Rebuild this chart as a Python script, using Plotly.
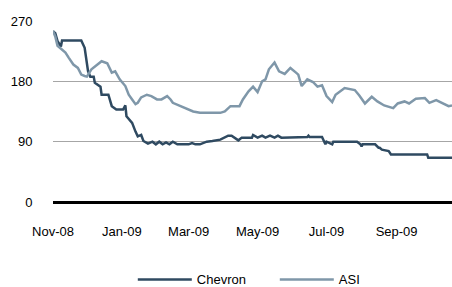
import plotly.graph_objects as go

chevron_dates = [
    "2008-11-01", "2008-11-03", "2008-11-05", "2008-11-08", "2008-11-09", "2008-11-26",
    "2008-11-29", "2008-12-02", "2008-12-04", "2008-12-07", "2008-12-08", "2008-12-13",
    "2008-12-14", "2008-12-20", "2008-12-23", "2008-12-27", "2009-01-02", "2009-01-04",
    "2009-01-05", "2009-01-10", "2009-01-13", "2009-01-15", "2009-01-18", "2009-01-20",
    "2009-01-24", "2009-01-28", "2009-01-31", "2009-02-03", "2009-02-06", "2009-02-09",
    "2009-02-12", "2009-02-15", "2009-02-19", "2009-02-24", "2009-03-01", "2009-03-04",
    "2009-03-07", "2009-03-11", "2009-03-17", "2009-03-22", "2009-03-29", "2009-04-05",
    "2009-04-08", "2009-04-14", "2009-04-17", "2009-04-26", "2009-04-27", "2009-05-01",
    "2009-05-05", "2009-05-08", "2009-05-12", "2009-05-16", "2009-05-19", "2009-05-22",
    "2009-06-14", "2009-06-15", "2009-06-16", "2009-06-27", "2009-06-30", "2009-07-01",
    "2009-07-06", "2009-07-07", "2009-07-28", "2009-07-31", "2009-08-01", "2009-08-02",
    "2009-08-13", "2009-08-16", "2009-08-17", "2009-08-19", "2009-08-25", "2009-08-27",
    "2009-09-28", "2009-09-29", "2009-10-20",
]
chevron_values = [
    255, 252, 240, 232, 241, 241,
    230, 195, 187, 187, 178, 172,
    160, 160, 143, 138, 138, 144,
    128, 118, 105, 98, 100, 91,
    87, 90, 86, 90, 86, 89,
    86, 90, 86, 86, 86, 88,
    86, 86, 90, 91, 93, 99,
    99, 92, 96, 96, 100, 96,
    99, 96, 99, 96, 99, 96,
    97, 99, 97, 97, 86, 90,
    86, 90, 90, 86, 83, 86,
    86, 81, 81, 78, 76, 71,
    71, 66, 66,
]

asi_dates = [
    "2008-11-01", "2008-11-03", "2008-11-05", "2008-11-09", "2008-11-12", "2008-11-15",
    "2008-11-19", "2008-11-23", "2008-11-26", "2008-11-29", "2008-12-01", "2008-12-05",
    "2008-12-10", "2008-12-14", "2008-12-19", "2008-12-23", "2008-12-26", "2008-12-30",
    "2009-01-04", "2009-01-07", "2009-01-10", "2009-01-13", "2009-01-15", "2009-01-18",
    "2009-01-23", "2009-01-27", "2009-02-01", "2009-02-05", "2009-02-10", "2009-02-13",
    "2009-02-15", "2009-02-21", "2009-02-27", "2009-03-05", "2009-03-11", "2009-03-17",
    "2009-03-23", "2009-03-29", "2009-04-02", "2009-04-07", "2009-04-15", "2009-04-18",
    "2009-04-23", "2009-04-27", "2009-05-01", "2009-05-05", "2009-05-08", "2009-05-11",
    "2009-05-16", "2009-05-20", "2009-05-25", "2009-05-30", "2009-06-04", "2009-06-06",
    "2009-06-09", "2009-06-14", "2009-06-19", "2009-06-23", "2009-06-27", "2009-07-01",
    "2009-07-06", "2009-07-09", "2009-07-17", "2009-07-21", "2009-07-26", "2009-07-30",
    "2009-08-04", "2009-08-10", "2009-08-15", "2009-08-21", "2009-08-29", "2009-09-02",
    "2009-09-08", "2009-09-12", "2009-09-18", "2009-09-26", "2009-09-30", "2009-10-06",
    "2009-10-11", "2009-10-17", "2009-10-20",
]
asi_values = [
    255, 247, 233, 228, 223, 215,
    205, 200, 190, 188, 187, 198,
    205, 210, 207, 193, 195, 183,
    173, 160, 153, 146, 148, 156,
    160, 158, 153, 153, 158, 153,
    148, 144, 139, 135, 133, 133,
    134, 133, 135, 143, 143, 153,
    165, 172, 164, 180, 183, 198,
    208, 195, 191, 200, 193, 190,
    173, 183, 179, 172, 174, 158,
    149, 160, 170, 169, 167, 159,
    147, 157, 150, 144, 140, 147,
    150, 147, 154, 155, 148, 152,
    148, 143, 144,
]

tick_dates = ["2008-11-01", "2009-01-01", "2009-03-01", "2009-05-01", "2009-07-01", "2009-09-01"]
tick_labels = ["Nov-08", "Jan-09", "Mar-09", "May-09", "Jul-09", "Sep-09"]
y_ticks = [0, 90, 180, 270]

fig = go.Figure()
fig.add_trace(go.Scatter(x=chevron_dates, y=chevron_values, mode="lines", name="Chevron",
                         line=dict(color="#2F4A61", width=2.5)))
fig.add_trace(go.Scatter(x=asi_dates, y=asi_values, mode="lines", name="ASI",
                         line=dict(color="#7F97A9", width=2.5)))

font = dict(family="Liberation Sans, Arial, sans-serif", size=13, color="#000000")
fig.update_layout(
    width=452, height=287,
    margin=dict(l=53, r=0, t=21, b=85, autoexpand=False),
    paper_bgcolor="white", plot_bgcolor="white",
    font=font,
    showlegend=True,
    legend=dict(orientation="h", x=0.2, xanchor="left", y=-0.428, yanchor="middle",
                font=font, bgcolor="rgba(0,0,0,0)", itemwidth=54,
                entrywidth=73, entrywidthmode="pixels"),
    xaxis=dict(type="date", range=["2008-11-01", "2009-10-20"], tickvals=tick_dates,
               ticktext=tick_labels, showgrid=False, zeroline=False, showline=False,
               ticks="outside", ticklen=17, tickcolor="rgba(0,0,0,0)", tickfont=font),
    yaxis=dict(range=[0, 270], tickvals=y_ticks, showgrid=True, gridcolor="#A6A6A6",
               gridwidth=1, zeroline=True, zerolinecolor="#000000", zerolinewidth=3,
               showline=False, ticks="outside", ticklen=17, tickcolor="rgba(0,0,0,0)",
               tickfont=font),
)

fig.write_html("out.html", config={"displayModeBar": False},
               post_script="document.body.style.margin='0';")
